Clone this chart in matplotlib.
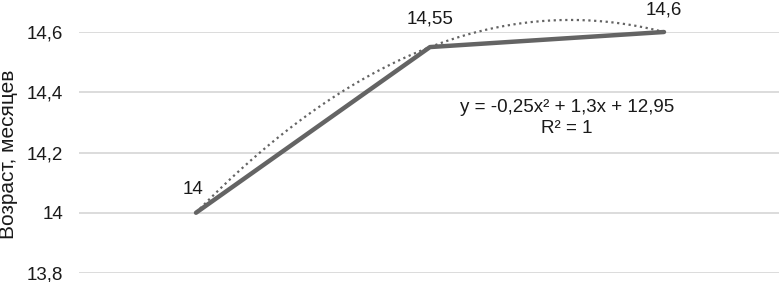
import numpy as np
import matplotlib.pyplot as plt

plt.rcParams['font.family'] = ['Liberation Sans', 'DejaVu Sans']

# данные
x_pos = [1, 2, 3]
age = [14.0, 14.55, 14.6]
point_labels = ['14', '14,55', '14,6']
yticks = [13.8, 14.0, 14.2, 14.4, 14.6]
ytick_labels = ['13,8', '14', '14,2', '14,4', '14,6']
trend_coef = [-0.25, 1.3, 12.95]

fig = plt.figure(figsize=(7.79, 2.82), dpi=100)
ax = fig.add_axes([79/779, 9/282, 702/779, 241/282])

col = '#646464'
txt = '#1a1a1a'
fs = 13.5
ax.plot(x_pos, age, color=col, lw=3.2, solid_capstyle='round', zorder=3)

# полиномиальный тренд
xt = np.linspace(x_pos[0], x_pos[-1], 200)
yt = np.polyval(trend_coef, xt)
ax.plot(xt, yt, color=col, lw=1.6, ls=(0, (1, 1.6)), zorder=4)

offsets = [(-2, 17), (0, 20), (0, 16)]
for xi, yi, lab, off in zip(x_pos, age, point_labels, offsets):
    ax.annotate(lab, (xi, yi), xytext=off, textcoords='offset points',
                ha='center', va='center', fontsize=fs, color=txt)

ax.text(2.585, 14.35, 'y = -0,25x² + 1,3x + 12,95', ha='center', va='center',
        fontsize=fs, color=txt)
ax.text(2.585, 14.28, 'R² = 1', ha='center', va='center',
        fontsize=fs, color=txt)

ax.set_xlim(0.5, 3.5)
ax.set_ylim(13.8, 14.6)
ax.set_yticks(yticks)
ax.set_yticklabels(ytick_labels, fontsize=fs, color=txt)
ax.set_xticks([])
ax.tick_params(axis='y', length=0, pad=11.5)
ax.grid(axis='y', color='#d9d9d9', lw=1.3)
ax.set_axisbelow(True)
for s in ax.spines.values():
    s.set_visible(False)
fig.text(9/779, 1 - 154/282, 'Возраст, месяцев', rotation=90, ha='center',
         va='center', fontsize=15, color=txt)
for ln in ax.lines:
    ln.set_clip_on(False)

fig.savefig('out.png', dpi=100)
